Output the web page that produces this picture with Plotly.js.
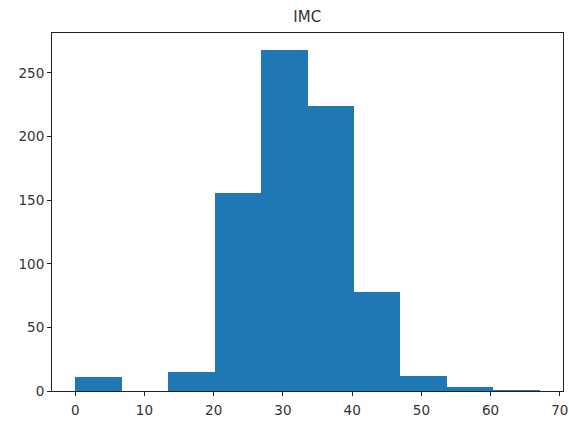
<!DOCTYPE html>
<html>
<head>
<meta charset="utf-8">
<script src="https://cdn.plot.ly/plotly-3.0.1.min.js"></script>
<style>html,body{margin:0;padding:0;background:#fff;}#chart{width:569px;height:421px;}</style>
</head>
<body>
<div id="chart"></div>
<script>
const binEdges = [0, 6.71, 13.42, 20.13, 26.84, 33.55, 40.26, 46.97, 53.68, 60.39, 67.1];
const counts = [11, 0, 15, 156, 268, 224, 78, 12, 3, 1];
const xTicks = [0, 10, 20, 30, 40, 50, 60, 70];
const yTicks = [0, 50, 100, 150, 200, 250];
const chartTitle = "IMC";

const centers = counts.map((c, i) => (binEdges[i] + binEdges[i + 1]) / 2);
const widths = counts.map((c, i) => binEdges[i + 1] - binEdges[i]);
const xMin = binEdges[0], xMax = binEdges[binEdges.length - 1];
const xPad = (xMax - xMin) * 0.05;
const yMax = Math.max(...counts) * 1.05;

const trace = {
  type: 'bar', x: centers, y: counts, width: widths,
  marker: {color: '#1f77b4', line: {width: 0}},
  hoverinfo: 'x+y'
};
const axisCommon = {
  showgrid: false, zeroline: false, showline: true, mirror: true,
  linecolor: '#222', linewidth: 1, ticks: 'outside', ticklen: 4, tickcolor: '#222',
  tickfont: {family: 'DejaVu Sans', size: 13.5, color: '#333'}
};
const layout = {
  width: 569, height: 421,
  margin: {l: 52, r: 6, t: 33, b: 30},
  paper_bgcolor: '#fff', plot_bgcolor: '#fff',
  title: {text: chartTitle, font: {family: 'DejaVu Sans', size: 15, color: '#333'}, x: 0.54, xanchor: 'center', y: 0.96, yanchor: 'middle'},
  xaxis: Object.assign({}, axisCommon, {range: [xMin - xPad, xMax + xPad], tickvals: xTicks, ticklabelstandoff: 3}),
  yaxis: Object.assign({}, axisCommon, {range: [0, yMax], tickvals: yTicks}),
  bargap: 0, showlegend: false
};
Plotly.newPlot('chart', [trace], layout, {displayModeBar: false, staticPlot: true});
</script>
</body>
</html>
